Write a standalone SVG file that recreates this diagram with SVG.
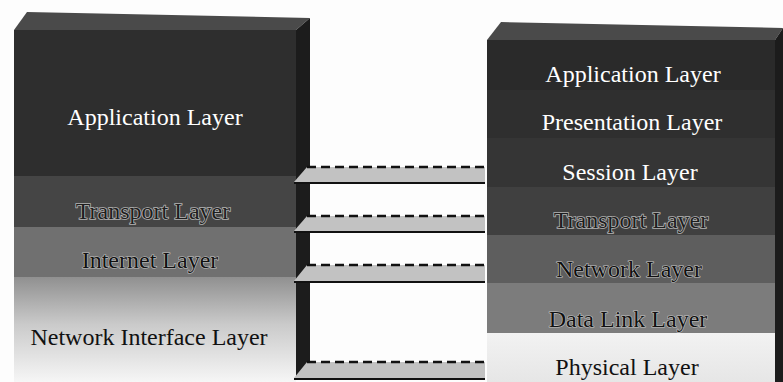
<svg xmlns="http://www.w3.org/2000/svg" width="783" height="382" viewBox="0 0 783 382">
<defs>
<linearGradient id="niGrad" x1="0" y1="0" x2="0" y2="1">
<stop offset="0" stop-color="#909090"/>
<stop offset="0.45" stop-color="#cacaca"/>
<stop offset="1" stop-color="#f6f6f6"/>
</linearGradient>
<linearGradient id="physGrad" x1="0" y1="0" x2="0" y2="1">
<stop offset="0" stop-color="#f2f2f2"/>
<stop offset="1" stop-color="#e6e6e6"/>
</linearGradient>
</defs>
<style>
text{font-family:"Liberation Serif","Times New Roman",serif;font-size:24px;text-anchor:middle}
.lt{fill:#ffffff}
.emb{fill:#1e1e1e;stroke:#b4b4b4;stroke-width:1.6;paint-order:stroke}
.dk{fill:#111111;stroke:#c4c4c4;stroke-width:1.2;paint-order:stroke}
.bk{fill:#111111}
.top{fill:#4a4a4a}
.side{fill:#1c1c1c}
.slab{fill:#c2c2c2}
.dash{stroke:#111;stroke-width:2.5;stroke-dasharray:9,5;fill:none}
.base{stroke:#111;stroke-width:2.2;fill:none}
</style>
<rect width="783" height="382" fill="#fdfdfd"/>

<g id="tcpip-stack">
<polygon class="top" points="14,30 27,12 310,18 296,30"/>
<polygon class="side" points="296,30 310,18 310,374 296,380"/>
<g id="tcp-application"><rect x="14" y="30" width="282" height="146" fill="#2e2e2e"/><text class="lt" x="155" y="125">Application Layer</text></g>
<g id="tcp-transport"><rect x="14" y="176" width="282" height="51" fill="#454545"/><text class="emb" x="153" y="219">Transport Layer</text></g>
<g id="tcp-internet"><rect x="14" y="227" width="282" height="50" fill="#707070"/><text class="dk" x="150" y="268">Internet Layer</text></g>
<g id="tcp-netif"><rect x="14" y="277" width="282" height="105" fill="url(#niGrad)"/><text class="bk" x="149" y="345">Network Interface Layer</text></g>
</g>

<g id="osi-stack">
<polygon class="top" points="487,40 501,22 783,28 775,40"/>
<polygon class="side" points="775,40 783,28 783,382 775,382"/>
<g id="osi-application"><rect x="487" y="40" width="288" height="50" fill="#2a2a2a"/><text class="lt" x="633" y="82">Application Layer</text></g>
<g id="osi-presentation"><rect x="487" y="90" width="288" height="48" fill="#2f2f2f"/><text class="lt" x="632" y="130">Presentation Layer</text></g>
<g id="osi-session"><rect x="487" y="138" width="288" height="49" fill="#353535"/><text class="lt" x="630" y="180">Session Layer</text></g>
<g id="osi-transport"><rect x="487" y="187" width="288" height="48" fill="#404040"/><text class="emb" x="631" y="228">Transport Layer</text></g>
<g id="osi-network"><rect x="487" y="235" width="288" height="48" fill="#5e5e5e"/><text class="dk" x="629" y="277">Network Layer</text></g>
<g id="osi-datalink"><rect x="487" y="283" width="288" height="50" fill="#7c7c7c"/><text class="dk" x="628" y="327">Data Link Layer</text></g>
<g id="osi-physical"><rect x="487" y="333" width="288" height="49" fill="url(#physGrad)"/><text class="bk" x="627" y="375">Physical Layer</text></g>
</g>

<g id="connectors">
<polygon class="slab" points="294,182 307,167 485,167 485,182"/>
<line class="dash" x1="307" y1="167" x2="485" y2="167"/>
<line class="base" x1="294" y1="183" x2="485" y2="183"/>

<polygon class="slab" points="294,231 307,216 485,216 485,231"/>
<line class="dash" x1="307" y1="216" x2="485" y2="216"/>
<line class="base" x1="294" y1="232" x2="485" y2="232"/>

<polygon class="slab" points="294,281 307,265 485,265 485,281"/>
<line class="dash" x1="307" y1="265" x2="485" y2="265"/>
<line class="base" x1="294" y1="282" x2="485" y2="282"/>

<polygon class="slab" points="294,378 307,362 485,362 485,378"/>
<line class="dash" x1="307" y1="362" x2="485" y2="362"/>
<line class="base" x1="294" y1="379" x2="485" y2="379"/>
</g>
</svg>
